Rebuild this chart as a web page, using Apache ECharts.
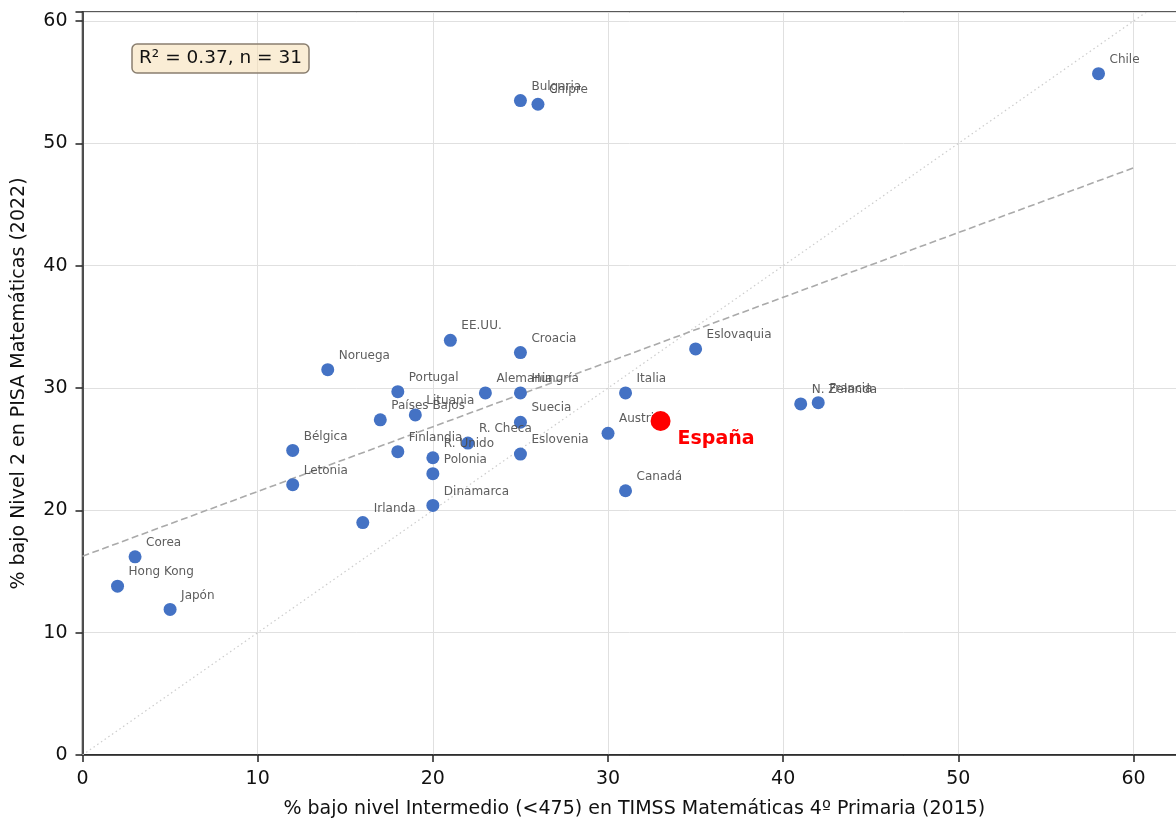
<!DOCTYPE html>
<html>
<head>
<meta charset="utf-8">
<script src="https://cdn.jsdelivr.net/npm/echarts@6/dist/echarts.min.js"></script>
<style>html,body{margin:0;padding:0;background:#fff}#c{width:1176px;height:819px}</style>
</head>
<body>
<div id="c"></div>
<script>
const countries = ["Chile","Bulgaria","Chipre","EE.UU.","Croacia","Eslovaquia","Noruega","Portugal","Alemania","Hungría","Italia","N. Zelanda","Francia","Lituania","Países Bajos","Suecia","Austria","Bélgica","Finlandia","R. Checa","Eslovenia","R. Unido","Polonia","Dinamarca","Letonia","Canadá","Irlanda","Corea","Hong Kong","Japón"];
const timss = [58,25,26,21,25,35,14,18,23,25,31,41,42,19,17,25,30,12,18,22,25,20,20,20,12,31,16,3,2,5];
const pisa = [55.7,53.5,53.2,33.9,32.9,33.2,31.5,29.7,29.6,29.6,29.6,28.7,28.8,27.8,27.4,27.2,26.3,24.9,24.8,25.5,24.6,24.3,23.0,20.4,22.1,21.6,19.0,16.2,13.8,11.9];
const spainName = "España";
const spainTimss = 33;
const spainPisa = 27.3;
const trendX = [0, 60];
const trendY = [16.25, 48.0];
const identityX = [0, 65];
const statsText = "R² = 0.37, n = 31";
const xTitle = "% bajo nivel Intermedio (<475) en TIMSS Matemáticas 4º Primaria (2015)";
const yTitle = "% bajo Nivel 2 en PISA Matemáticas (2022)";

const FONT = "DejaVu Sans";
const chart = echarts.init(document.getElementById('c'), null, {renderer:'canvas'});
const fmt = v => (Math.abs(v % 10) < 1e-9 ? String(v) : '');
const axisCommon = {
  axisLine:{show:true,onZero:false,lineStyle:{color:'#222',width:1.5}},
  axisTick:{show:true,length:7,inside:false,lineStyle:{color:'#222',width:1.5}},
  splitLine:{show:true,lineStyle:{color:'#e0e0e0',width:1}},
  axisLabel:{fontFamily:FONT,fontSize:19,color:'#111',formatter:fmt},
  nameTextStyle:{fontFamily:FONT,fontSize:19,color:'#111'}
};
chart.setOption({
  animation:false,
  textStyle:{fontFamily:FONT},
  grid:{left:82.5,top:12,width:1103.6,height:743,show:true,borderColor:'#222',borderWidth:1.5,backgroundColor:'transparent',
    containLabel:false,outerBoundsMode:'none'},
  title:{text:statsText,left:132,top:44,padding:[5,7,5,7],backgroundColor:'rgba(245,222,179,0.55)',borderColor:'#8a7f70',borderWidth:1.5,borderRadius:5,
    textStyle:{fontFamily:FONT,fontSize:18.5,fontWeight:'normal',color:'#111'}},
  xAxis:Object.assign({},axisCommon,{type:'value',min:0,max:63,interval:10,name:xTitle,nameLocation:'middle',nameGap:45,
    axisLabel:Object.assign({},axisCommon.axisLabel,{margin:15})}),
  yAxis:Object.assign({},axisCommon,{type:'value',min:0,max:60.74,interval:10,name:yTitle,nameLocation:'middle',nameGap:54,
    axisLabel:Object.assign({},axisCommon.axisLabel,{margin:15})}),
  series:[
    {type:'line',data:identityX.map(v=>[v,v]),symbol:'none',silent:true,clip:true,
      lineStyle:{color:'#cccccc',width:1.2,type:[1.5,3]},z:1},
    {type:'line',data:trendX.map((v,i)=>[v,trendY[i]]),symbol:'none',silent:true,clip:true,
      lineStyle:{color:'#aaaaaa',width:1.6,type:[7,3.5]},z:2},
    {type:'scatter',data:countries.map((n,i)=>({name:n,value:[timss[i],pisa[i]]})),symbolSize:13,
      itemStyle:{color:'#4472c4',opacity:1},z:3,
      label:{show:true,position:[17.5,-7.5],align:'left',verticalAlign:'middle',formatter:p=>p.name,fontFamily:FONT,fontSize:12,color:'rgba(75,75,75,0.9)'}},
    {type:'scatter',data:[{name:spainName,value:[spainTimss,spainPisa]}],symbolSize:20,
      itemStyle:{color:'#ff0000',opacity:1},z:4,
      label:{show:true,position:[27,28],align:'left',verticalAlign:'middle',formatter:p=>p.name,fontFamily:FONT,fontSize:19,fontWeight:'bold',color:'#ff0000'}}
  ]
});
</script>
</body>
</html>
